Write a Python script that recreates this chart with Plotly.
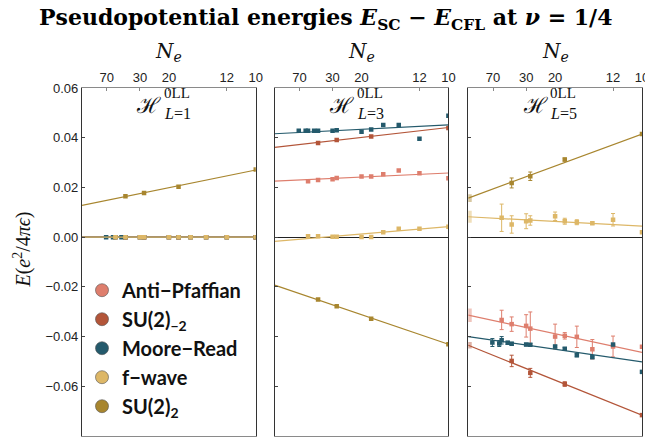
import plotly.graph_objects as go

# ---------------- data (x = 1/N_e) ----------------
N_su2 = [40, 28, 18, 10]
N_ap = [52, 40, 30, 28, 20, 18, 16, 14, 12, 10]
N_fw = [52, 40, 30, 28, 20, 18, 16, 14, 12, 10]
N_mr = [72, 56, 52, 44, 40, 30, 28, 20, 18, 16, 14, 12, 10]

series_names = ["Anti\u2212Pfaffian", "SU(2)<sub>\u22122</sub>", "Moore\u2212Read", "f\u2212wave", "SU(2)<sub>2</sub>"]
series_colors = ["#de7e6d", "#b35539", "#245a6c", "#ddb767", "#a8862f"]

# H_{L=1}
L1_ap = [0.0] * 10
L1_su2m = [0.0] * 4
L1_mr = [0.0] * 13
L1_fw = [0.0] * 10
L1_su2p = [0.0165, 0.0178, 0.0203, 0.0272]

# H_{L=3}
L3_ap = [0.0225, 0.0230, 0.0233, 0.0238, 0.0244, 0.0244, 0.0253, 0.0268, 0.0257, 0.0237]
L3_su2m = [0.0379, 0.0391, 0.0405, 0.0439]
L3_mr = [0.0428, 0.0428, 0.0428, 0.0428, 0.0428, 0.0428, 0.0430, 0.0424, 0.0433, 0.0451, 0.0451, 0.0396, 0.0488]
L3_fw = [0.0004, 0.0004, 0.0002, 0.0002, 0.0001, 0.0001, 0.0020, 0.0034, 0.0034, 0.0042]
L3_su2p = [-0.0251, -0.0278, -0.0328, -0.0431]

# H_{L=5} with error bars
L5_ap = [-0.0333, -0.0350, -0.0357, -0.0368, -0.0400, -0.0397, -0.0401, -0.0451, -0.0440, -0.0441]
L5_ap_err = [0.0039, 0.0029, 0.0045, 0.0067, 0.0050, 0.0013, 0.0043, 0.0039, 0.0042, 0.0003]
L5_su2m = [-0.0498, -0.0546, -0.0591, -0.0716]
L5_su2m_err = [0.0023, 0.0018, 0.0009, 0.0003]
L5_mr = [-0.0424, -0.0428, -0.0415, -0.0425, -0.0429, -0.0432, -0.0433, -0.0440, -0.0449, -0.0475, -0.0483, -0.0432, -0.0542]
L5_mr_err = [0.0016, 0.0012, 0.0015, 0.0006, 0.0006, 0.0005, 0.0005, 0.0005, 0.0005, 0.0006, 0.0004, 0.0004, 0.0003]
L5_fw = [0.0078, 0.0051, 0.0064, 0.0067, 0.0084, 0.0064, 0.0060, 0.0056, 0.0070, 0.0020]
L5_fw_err = [0.0055, 0.0035, 0.0030, 0.0019, 0.0017, 0.0012, 0.0010, 0.0005, 0.0025, 0.0003]
L5_su2p = [0.0218, 0.0245, 0.0312, 0.0415]
L5_su2p_err = [0.0020, 0.0017, 0.0006, 0.0003]

# linear fits E = E_inf + slope / N_e   (order: AP, SU2m, MR, fw, SU2p)
fit_Einf_L1 = [0.0, 0.0, 0.0, 0.0, 0.0128]
fit_slope_L1 = [0.0, 0.0, 0.0, 0.0, 0.142]
fit_Einf_L3 = [0.0225, 0.0361, 0.0416, -0.0017, -0.0193]
fit_slope_L3 = [0.033, 0.080, 0.036, 0.059, -0.238]
fit_Einf_L5 = [-0.0314, -0.0435, -0.0400, 0.0082, 0.0157]
fit_slope_L5 = [-0.150, -0.281, -0.102, -0.038, 0.258]
fit_Einf_err_L5 = [0.0027, 0.0013, 0.0, 0.0024, 0.0016]

tick_N = [70, 30, 20, 12, 10]
ytick_vals = [-0.08, -0.06, -0.04, -0.02, 0.0, 0.02, 0.04, 0.06]
panel_L = [1, 3, 5]

# ---------------- figure ----------------
fig = go.Figure()
N_lists = [N_ap, N_su2, N_mr, N_fw, N_su2]
panels = [
    ([L1_ap, L1_su2m, L1_mr, L1_fw, L1_su2p], None, fit_Einf_L1, fit_slope_L1, None),
    ([L3_ap, L3_su2m, L3_mr, L3_fw, L3_su2p], None, fit_Einf_L3, fit_slope_L3, None),
    ([L5_ap, L5_su2m, L5_mr, L5_fw, L5_su2p],
     [L5_ap_err, L5_su2m_err, L5_mr_err, L5_fw_err, L5_su2p_err],
     fit_Einf_L5, fit_slope_L5, fit_Einf_err_L5),
]

def rgba(hexc, a):
    h = hexc.lstrip("#")
    return "rgba(%d,%d,%d,%.2f)" % (int(h[0:2], 16), int(h[2:4], 16), int(h[4:6], 16), a)

XMAX = 0.1
for p, (vals, errs, einf, slope, einf_err) in enumerate(panels):
    xa = "x" if p == 0 else "x%d" % (p + 1)
    ya = "y" if p == 0 else "y%d" % (p + 1)
    for s in range(5):
        col = series_colors[s]
        # fit line
        fig.add_trace(go.Scatter(
            x=[0, XMAX], y=[einf[s], einf[s] + slope[s] * XMAX], mode="lines",
            line=dict(color=col, width=1.2), xaxis=xa, yaxis=ya, showlegend=False,
            hoverinfo="skip"))
        # extrapolation uncertainty box at 1/N = 0
        if einf_err is not None and einf_err[s] > 0:
            fig.add_trace(go.Scatter(
                x=[0], y=[einf[s]], mode="markers",
                marker=dict(size=1, color="rgba(0,0,0,0)"),
                error_y=dict(type="data", array=[einf_err[s]], color=rgba(col, 0.45),
                             thickness=7, width=0),
                xaxis=xa, yaxis=ya, showlegend=False, hoverinfo="skip"))
        xs = [1.0 / n for n in N_lists[s]]
        kw = {}
        if errs is not None:
            kw["error_y"] = dict(type="data", array=errs[s], color=col, thickness=1, width=2)
        fig.add_trace(go.Scatter(
            x=xs, y=vals[s], mode="markers",
            marker=dict(size=4.5, color=col, symbol="square"),
            xaxis=xa, yaxis=ya, showlegend=False, **kw))

# legend entries
for s in range(5):
    fig.add_trace(go.Scatter(
        x=[None], y=[None], mode="markers", name="<b>" + series_names[s] + "</b>",
        marker=dict(size=13, color=series_colors[s], line=dict(color=rgba("#555555", 0.6), width=1)),
        legendgroup="g%d" % s, showlegend=True))

# the page body adds an 8px offset; the figure is sized so the plot area lands at
# x 82..646, y 88..437 of the 653x441 window
domains = [[0.0, 0.3103], [0.344, 0.6543], [0.6897, 1.0]]
layout = dict(
    width=645, height=433,
    margin=dict(l=74, r=7, t=80, b=4),
    plot_bgcolor="white", paper_bgcolor="white",
    showlegend=True,
    legend=dict(x=0.0, y=0.475, xanchor="left", yanchor="top",
                font=dict(family="Lato, DejaVu Sans, sans-serif", size=20, color="#111"),
                bgcolor="rgba(0,0,0,0)", tracegroupgap=0, itemwidth=30),
)
for p in range(3):
    xk = "xaxis" if p == 0 else "xaxis%d" % (p + 1)
    yk = "yaxis" if p == 0 else "yaxis%d" % (p + 1)
    layout[xk] = dict(
        domain=domains[p], range=[0, XMAX], side="top",
        anchor="y" if p == 0 else "y%d" % (p + 1),
        tickvals=[1.0 / n for n in tick_N], ticktext=[str(n) for n in tick_N],
        ticks="inside", ticklen=3, tickcolor="#888",
        showline=True, linecolor="#8a8a8a", linewidth=1, mirror=True,
        showgrid=False, zeroline=False,
        tickfont=dict(family="Liberation Sans, Arial, sans-serif", size=13, color="#222"))
    layout[yk] = dict(
        domain=[0, 1], range=[-0.08, 0.06],
        anchor="x" if p == 0 else "x%d" % (p + 1),
        tickvals=ytick_vals, tickformat=".2f",
        showticklabels=(p == 0),
        ticks="inside", ticklen=3, tickcolor="#444",
        showline=True, linecolor="#333", linewidth=1.2, mirror=True,
        showgrid=False, zeroline=True, zerolinecolor="#222", zerolinewidth=1.2,
        tickfont=dict(family="Liberation Sans, Arial, sans-serif", size=13, color="#222"))
    if p > 0:
        layout[yk]["matches"] = "y"
fig.update_layout(**layout)

serif = "DejaVu Serif, Liberation Serif, serif"
ann = []
ann.append(dict(
    text="<b>Pseudopotential energies <i>E</i><sub>SC</sub> \u2212 <i>E</i><sub>CFL</sub> at <i>\u03bd</i> = 1/4</b>",
    xref="paper", yref="paper", x=0.434, y=1.198, xanchor="center", yanchor="middle",
    showarrow=False, font=dict(family=serif, size=22, color="#000")))
for p in range(3):
    c = (domains[p][0] + domains[p][1]) / 2
    ann.append(dict(text="<i>N</i><sub><i>e</i></sub>", xref="paper", yref="paper",
                    x=c, y=1.104, xanchor="center", yanchor="middle", showarrow=False,
                    font=dict(family=serif, size=20, color="#111")))
    xd = ("x" if p == 0 else "x%d" % (p + 1)) + " domain"
    yd = ("y" if p == 0 else "y%d" % (p + 1)) + " domain"
    ann.append(dict(text="\u210b", xref=xd, yref=yd, x=0.385, y=0.951,
                    xanchor="center", yanchor="middle", showarrow=False,
                    font=dict(family=serif, size=22, color="#111")))
    ann.append(dict(text="0LL", xref=xd, yref=yd, x=0.46, y=0.985,
                    xanchor="left", yanchor="middle", showarrow=False,
                    font=dict(family="Liberation Serif, serif", size=15, color="#111")))
    ann.append(dict(text="<i>L</i>=%d" % panel_L[p], xref=xd, yref=yd, x=0.46, y=0.928,
                    xanchor="left", yanchor="middle", showarrow=False,
                    font=dict(family="Liberation Serif, serif", size=16, color="#111")))
ann.append(dict(text="<i>E</i>(<i>e</i><sup>2</sup>/4<i>\u03c0\u03f5</i>)", xref="paper", yref="paper",
                x=-0.107, y=0.536, xanchor="center", yanchor="middle", textangle=-90,
                showarrow=False, font=dict(family="Liberation Serif, serif", size=20, color="#111")))
fig.update_layout(annotations=ann)

fig.write_html("out.html")
